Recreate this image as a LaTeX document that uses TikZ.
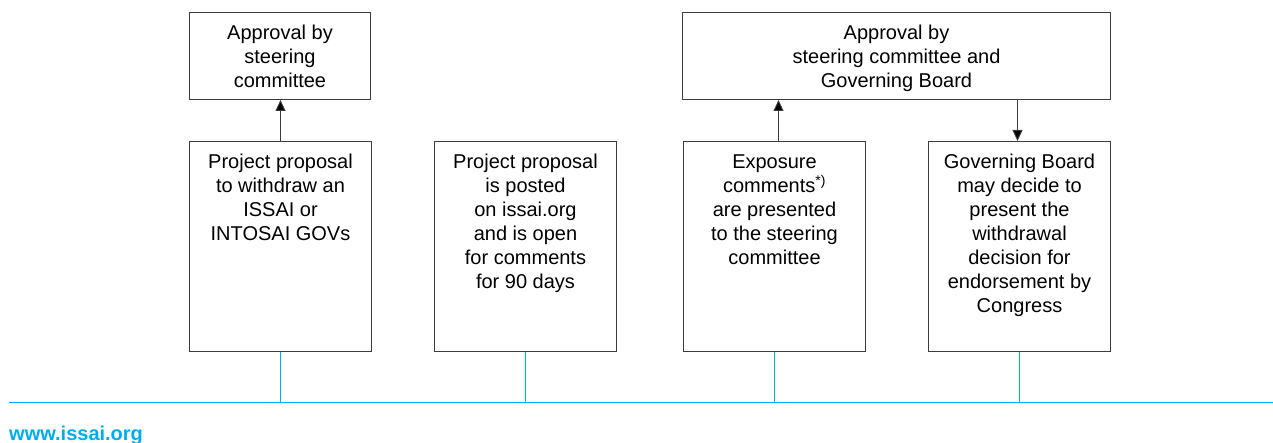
\documentclass[tikz,border=0pt]{standalone}
\usepackage{fontspec}
\setmainfont{Liberation Sans}
\usetikzlibrary{arrows.meta}
\definecolor{issaiblue}{RGB}{0,174,239}
\definecolor{boxgray}{RGB}{60,60,60}
\newcommand\mybox[3]{\parbox[c][#2][t]{#1}{\vspace*{10.5pt}\centering\fontsize{20}{24}\selectfont\strut #3}}
\begin{document}
\begin{tikzpicture}[x=1pt,y=-1pt,
  box/.style={draw=boxgray, line width=1pt, inner sep=0pt, anchor=north west, text=black},
  arr/.style={draw=boxgray, line width=0.9pt, -{Triangle[length=11pt,width=10pt,fill=black]}},
  link/.style={draw=issaiblue, line width=1pt}]
\useasboundingbox (0,0) rectangle (1273,443);
\node[box] (ap1) at (189,12) {\mybox{181pt}{87pt}{Approval by\\steering\\committee}};
\node[box] (ap2) at (682,12) {\mybox{428pt}{87pt}{Approval by\\steering committee and\\Governing Board}};
\node[box] (A) at (189,141) {\mybox{182pt}{210pt}{Project proposal\\to withdraw an\\ISSAI or\\INTOSAI GOVs}};
\node[box] (B) at (434,141) {\mybox{182pt}{210pt}{Project proposal\\is posted\\on issai.org\\and is open\\for comments\\for 90 days}};
\node[box] (C) at (683,141) {\mybox{182pt}{210pt}{Exposure\\comments\smash{\textsuperscript{*)}}\\are presented\\to the steering\\committee}};
\node[box] (D) at (928,141) {\mybox{182pt}{210pt}{Governing Board\\may decide to\\present the\\withdrawal\\decision for\\endorsement by\\Congress}};
\draw[arr] (A.north) -- (A.north |- ap1.south);
\draw[arr] ([xshift=4pt]C.north) -- ([xshift=4pt]C.north |- ap2.south);
\draw[arr] ([xshift=-2pt]D.north |- ap2.south) -- ([xshift=-2pt]D.north);
\coordinate (bl) at (9,402);
\coordinate (br) at (1273,402);
\draw[link] (bl) -- (br);
\foreach \n in {A,B,C,D} {\draw[link] (\n.south) -- (\n.south |- bl);}
\node[anchor=base west, inner sep=0pt, text=issaiblue, font=\bfseries\fontsize{20}{24}\selectfont] (web) at (9,440) {www.issai.org};
\end{tikzpicture}
\end{document}
